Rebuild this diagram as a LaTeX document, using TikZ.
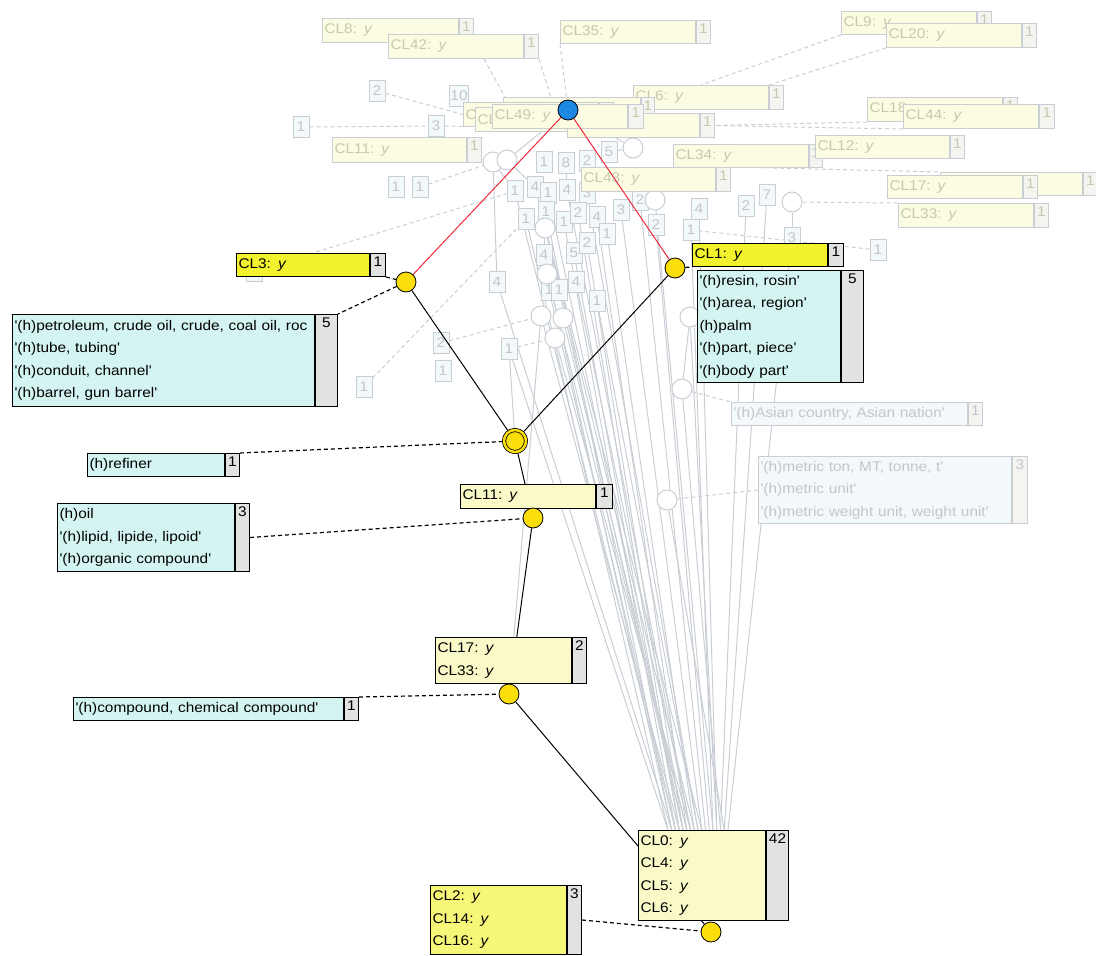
\documentclass[tikz,border=0pt]{standalone}
\usepackage{fontspec}
\setmainfont{Liberation Sans}[FakeStretch=1.1,Ligatures=TeXOff]

\pgfdeclarelayer{fadeedges}
\pgfdeclarelayer{fadenodes}
\pgfdeclarelayer{edges}
\pgfsetlayers{fadeedges,fadenodes,edges,main}

\definecolor{hiyel}{RGB}{242,242,46}
\definecolor{midyel}{RGB}{246,246,120}
\definecolor{loyel}{RGB}{250,250,200}
\definecolor{listcyan}{RGB}{212,244,242}
\definecolor{cellgrey}{RGB}{224,227,223}
\definecolor{dotyel}{RGB}{250,222,10}
\definecolor{dotblue}{RGB}{30,136,229}
\definecolor{redline}{RGB}{240,40,60}
\definecolor{fadegrey}{RGB}{200,206,212}
\definecolor{fadeyel}{RGB}{252,252,226}
\definecolor{fadecyan}{RGB}{243,249,250}
\definecolor{fadecell}{RGB}{244,244,241}
\definecolor{fadetext}{RGB}{200,200,172}
\definecolor{fadeword}{RGB}{192,198,204}

\begin{document}
\begin{tikzpicture}[x=1pt, y=-1pt,
    font=\fontsize{14}{22.5}\selectfont,
    box/.style={draw, rectangle, anchor=north west, inner xsep=2pt, inner ysep=0pt, align=left, line width=1pt},
    cnt/.style={draw, rectangle, anchor=north west, fill=cellgrey, inner sep=0pt, minimum width=#1, text height=13pt, line width=1pt},
    fbox/.style={box, draw=fadegrey, fill=fadeyel, text=fadetext},
    fcnt/.style={cnt=#1, draw=fadegrey, fill=fadecell, text=fadetext},
    flist/.style={box, draw=fadegrey, fill=fadecyan, text=fadeword},
    nbox/.style={draw=fadegrey, fill=fadecyan, text=fadeword, rectangle, minimum width=16pt, minimum height=21pt, inner sep=1pt, line width=1pt},
    fdot/.style={circle, draw=fadegrey, fill=white, minimum size=20pt, inner sep=0pt, line width=1pt},
    dot/.style={circle, draw, fill=dotyel, minimum size=20pt, inner sep=0pt, line width=0.8pt},
    ring/.style={circle, draw, double=dotyel, double distance=2.5pt, fill=dotyel, minimum size=22pt, inner sep=0pt, line width=0.8pt},
    fline/.style={draw=fadegrey, line width=1pt},
    fdash/.style={draw=fadegrey, line width=1pt, dash pattern=on 4pt off 3pt},
    link/.style={line width=1pt},
    hint/.style={line width=1.2pt, dash pattern=on 4pt off 3pt},
    redlink/.style={draw=redline, line width=1pt}]

    \useasboundingbox (0,0) rectangle (1096,956);

    % Faded nodes
    \begin{pgfonlayer}{fadenodes}
    \foreach \n/\x/\y/\t in {1/377/91/2, 2/459/96/10, 3/301/127/1, 4/436/126/3, 5/396/187/1, 6/420/187/1,
        7/544/162/1, 8/566/163/8, 9/587/161/2, 10/609/152/5, 11/515/191/1, 12/535/187/4, 13/548/193/1,
        14/567/190/4, 15/587/193/3, 16/526/219/1, 17/546/212/1, 18/564/222/1, 19/578/213/2, 20/597/217/4,
        21/621/210/3, 22/640/200/2, 23/656/225/2, 24/607/234/1, 25/699/209/4, 26/691/230/1, 27/746/206/2,
        28/767/195/7, 29/792/238/3, 30/878/250/1, 31/544/255/4, 32/574/253/5, 33/587/243/2, 34/497/282/4,
        35/549/290/1, 36/559/290/1, 37/576/282/4, 38/597/301/1, 39/441/343/2, 40/509/349/1, 41/443/371/1,
        42/364/387/1, 44/254/271/}
        \node[nbox] (nb\n) at (\x,\y) {\t};
    \foreach \n/\x/\y in {1/493/162, 2/507/160, 3/792/202, 4/541/316, 5/563/318, 6/555/338, 7/682/389,
        8/667/500, 9/545/228, 10/633/148, 11/655/200, 12/547/274, 13/690/317}
        \node[fdot] (c\n) at (\x,\y) {};

    \node[fbox, text width=132pt, minimum height=24pt] (fl8) at (322,18) {CL8: \textit{y}};
    \node[fcnt=14pt, text depth=11pt] (fl8c) at (fl8.north east) {1};
    \node[fbox, text width=131pt, minimum height=24pt] (fl42) at (388,34) {CL42: \textit{y}};
    \node[fcnt=14pt, text depth=11pt] (fl42c) at (fl42.north east) {1};
    \node[fbox, text width=131pt, minimum height=23pt] (fl35) at (560,20) {CL35: \textit{y}};
    \node[fcnt=14pt, text depth=10pt] (fl35c) at (fl35.north east) {1};
    \node[fbox, text width=131pt, minimum height=23pt] (fl9) at (841,11) {CL9: \textit{y}};
    \node[fcnt=14pt, text depth=10pt] (fl9c) at (fl9.north east) {1};
    \node[fbox, text width=131pt, minimum height=24pt] (fl20) at (886,23) {CL20: \textit{y}};
    \node[fcnt=14pt, text depth=11pt] (fl20c) at (fl20.north east) {1};
    \node[fbox, text width=131pt, minimum height=24pt] (fl6) at (633,85) {CL6: \textit{y}};
    \node[fcnt=14pt, text depth=11pt] (fl6c) at (fl6.north east) {1};
    \node[fbox, text width=133pt, minimum height=24pt] (fC) at (503,97) {CL4};
    \node[fcnt=13pt, text depth=11pt] (fCc) at (fC.north east) {1};
    \node[fbox, text width=131pt, minimum height=24pt] (fA) at (463,102) {CL};
    \node[fcnt=14pt, text depth=11pt] (fAc) at (fA.north east) {1};
    \node[fbox, text width=131pt, minimum height=24pt] (fB) at (475,107) {CL};
    \node[fcnt=14pt, text depth=11pt] (fBc) at (fB.north east) {1};
    \node[fbox, text width=128pt, minimum height=24pt] (fD) at (567,113) {};
    \node[fcnt=14pt, text depth=11pt] (fDc) at (fD.north east) {1};
    \node[fbox, text width=131pt, minimum height=24pt] (fl49) at (492,104) {CL49: \textit{y}};
    \node[fcnt=15pt, text depth=11pt] (fl49c) at (fl49.north east) {1};
    \node[fbox, text width=131pt, minimum height=24pt] (fl18) at (867,97) {CL18: \textit{y}};
    \node[fcnt=14pt, text depth=11pt] (fl18c) at (fl18.north east) {1};
    \node[fbox, text width=131pt, minimum height=24pt] (fl44) at (903,104) {CL44: \textit{y}};
    \node[fcnt=15pt, text depth=11pt] (fl44c) at (fl44.north east) {1};
    \node[fbox, text width=130pt, minimum height=25pt] (fl11) at (332,137) {CL11: \textit{y}};
    \node[fcnt=14pt, text depth=12pt] (fl11c) at (fl11.north east) {1};
    \node[fbox, text width=131pt, minimum height=23pt] (fl34) at (673,144) {CL34: \textit{y}};
    \node[fcnt=13pt, text depth=10pt] (fl34c) at (fl34.north east) {1};
    \node[fbox, text width=130pt, minimum height=23pt] (fl12) at (815,135) {CL12: \textit{y}};
    \node[fcnt=14pt, text depth=10pt] (fl12c) at (fl12.north east) {1};
    \node[fbox, text width=130pt, minimum height=24pt] (fl43) at (581,167) {CL43: \textit{y}};
    \node[fcnt=14pt, text depth=11pt] (fl43c) at (fl43.north east) {1};
    \node[fbox, text width=138pt, minimum height=23pt] (fl17b) at (940,172) {};
    \node[fcnt=14pt, text depth=10pt] (fl17bc) at (fl17b.north east) {1};
    \node[fbox, text width=131pt, minimum height=23pt] (fl17) at (887,175) {CL17: \textit{y}};
    \node[fcnt=14pt, text depth=10pt] (fl17c) at (fl17.north east) {1};
    \node[fbox, text width=131pt, minimum height=24pt] (fl33) at (898,203) {CL33: \textit{y}};
    \node[fcnt=14pt, text depth=11pt] (fl33c) at (fl33.north east) {1};
    \node[flist, text width=232pt, minimum height=23pt] (asia) at (731,402) {'(h)Asian country, Asian nation'};
    \node[fcnt=14pt, text depth=10pt, fill=fadecell, text=fadeword] (asiac) at (asia.north east) {1};
    \node[flist, text width=249pt, minimum height=67pt] (metric) at (758,456) {'(h)metric ton, MT, tonne, t'\\'(h)metric unit'\\'(h)metric weight unit, weight unit'};
    \node[fcnt=15pt, text depth=54pt, text=fadeword] (metricc) at (metric.north east) {3};
    \end{pgfonlayer}

    % Nodes
    \node[dot, fill=dotblue] (top) at (568,110) {};
    \node[box, fill=hiyel, text width=129pt, minimum height=23pt] (cl3) at (236,253) {CL3: \textit{y}};
    \node[cnt=15pt, text depth=10pt] (cl3c) at (cl3.north east) {1};
    \node[dot] (n3) at (406,282) {};
    \node[box, fill=listcyan, text width=298pt, minimum height=92pt] (pet) at (12,314)
        {\mbox{'(h)petroleum, crude oil, crude, coal oil, roc}\\'(h)tube, tubing'\\'(h)conduit, channel'\\'(h)barrel, gun barrel'};
    \node[cnt=22pt, text depth=79pt] (petc) at (pet.north east) {5};
    \node[box, fill=hiyel, text width=131pt, minimum height=23pt] (cl1) at (692,243) {CL1: \textit{y}};
    \node[cnt=15pt, text depth=10pt] (cl1c) at (cl1.north east) {1};
    \node[dot] (n1) at (675,268) {};
    \node[box, fill=listcyan, text width=139pt, minimum height=112pt] (resin) at (697,270)
        {'(h)resin, rosin'\\'(h)area, region'\\(h)palm\\'(h)part, piece'\\'(h)body part'};
    \node[cnt=22pt, text depth=99pt] (resinc) at (resin.north east) {5};
    \node[ring] (refine) at (515,441) {};
    \node[box, fill=listcyan, text width=133pt, minimum height=23pt] (refiner) at (87,453) {(h)refiner};
    \node[cnt=14pt, text depth=10pt] (refinerc) at (refiner.north east) {1};
    \node[box, fill=loyel, text width=131pt, minimum height=24pt] (cl11) at (460,484) {CL11: \textit{y}};
    \node[cnt=16pt, text depth=11pt] (cl11c) at (cl11.north east) {1};
    \node[dot] (n11) at (533,518) {};
    \node[box, fill=listcyan, text width=173pt, minimum height=68pt] (oil) at (57,503)
        {(h)oil\\'(h)lipid, lipide, lipoid'\\'(h)organic compound'};
    \node[cnt=14pt, text depth=55pt] (oilc) at (oil.north east) {3};
    \node[box, fill=loyel, text width=132pt, minimum height=46pt] (cl17) at (435,637) {CL17: \textit{y}\\CL33: \textit{y}};
    \node[cnt=14pt, text depth=33pt] (cl17c) at (cl17.north east) {2};
    \node[dot] (n17) at (509,694) {};
    \node[box, fill=listcyan, text width=266pt, minimum height=23pt] (comp) at (73,697) {'(h)compound, chemical compound'};
    \node[cnt=14pt, text depth=10pt] (compc) at (comp.north east) {1};
    \node[box, fill=loyel, text width=123pt, minimum height=90pt] (cl0) at (638,830)
        {CL0: \textit{y}\\CL4: \textit{y}\\CL5: \textit{y}\\CL6: \textit{y}};
    \node[cnt=22pt, text depth=77pt] (cl0c) at (cl0.north east) {42};
    \node[dot] (n0) at (711,932) {};
    \node[box, fill=midyel, text width=132pt, minimum height=69pt] (cl2) at (430,885)
        {CL2: \textit{y}\\CL14: \textit{y}\\CL16: \textit{y}};
    \node[cnt=14pt, text depth=56pt] (cl2c) at (cl2.north east) {3};

    % Faded lines
    \begin{pgfonlayer}{fadeedges}
    \coordinate (hub1) at (515,115);
    \coordinate (hub2) at (553,104);
    \coordinate (hub3) at (520,127);
    \foreach \k in {0,...,16}
        \coordinate (ft\k) at ({668+3.75*\k},830);
    \foreach \s/\k in {nb16/0, nb17/1, nb18/2, nb19/3, nb20/5, nb24/7, nb31/1, nb32/3, nb33/4, nb35/2,
        nb36/4, nb37/6, nb38/8, c4/3, c5/5, c6/6, c9/7, c12/5, nb11/2, nb13/4, nb14/6, nb15/8, nb21/9,
        nb22/10, nb23/11, nb25/13, nb26/12, nb29/16, c7/14, c8/15, nb40/0, nb34/1, nb12/9, c11/12,
        nb28/15, nb27/14, c13/13}
        \draw[fline] (\s) -- (ft\k);
    \foreach \a/\b in {c1/nb11, c2/nb12, c10/nb10, c11/nb22, c3/nb29, c1/nb34, c13/c7, nb40/refine,
        c4/n17, top/c2, top/c10, nb8/nb14, nb9/nb15, c9/nb31}
        \draw[fline] (\a) -- (\b);
    \draw[fdash] ([xshift=28pt]fl42.south) -- (hub1);
    \draw[fdash] (fl42c.south east) -- (hub2);
    \draw[fdash] (fl35.south west) -- (top);
    \draw[fdash] (nb1) -- (fA.west);
    \draw[fdash] (nb3) -- (nb4) -- (hub3);
    \draw[fdash] (fl9.south west) -- (fl6.north);
    \draw[fdash] (fl20.south west) -- (fl6c.north west);
    \draw[fdash] (fl18.south west) -- (fDc.east);
    \draw[fdash] (fl44.south west) -- (fDc.east);
    \draw[fdash] (nb6) -- (c1);
    \draw[fdash] (nb44) -- (nb11);
    \draw[fdash] (nb42) -- (nb16);
    \draw[fdash] (nb39) -- (c4);
    \draw[fdash] (nb40) -- (c6);
    \draw[fdash] (c3) -- (fl33.north west);
    \draw[fdash] (fl43c.north east) -- (fl17b.north west);
    \draw[fdash] (nb30) -- (nb26);
    \draw[fdash] (c7) -- (asia.north west);
    \draw[fdash] (c8) -- (metric.west);
    \end{pgfonlayer}

    % Links
    \begin{pgfonlayer}{edges}
    \draw[redlink] (top) -- (n3);
    \draw[redlink] (top) -- (n1);
    \draw[link] (n3) -- (refine);
    \draw[link] (n1) -- (refine);
    \draw[link] (refine) -- (n11);
    \draw[link] (n11) -- (n17);
    \draw[link] (n17) -- (n0);
    \draw[hint] (cl3c.south east) -- (n3);
    \draw[hint] (n3) -- (petc.north east);
    \draw[hint] (n1) -- (cl1.south west);
    \draw[hint] (refinerc.north east) -- (refine);
    \draw[hint] (oilc.east) -- (n11);
    \draw[hint] (compc.north east) -- (n17);
    \draw[hint] (cl2c.east) -- (n0);
    \end{pgfonlayer}
\end{tikzpicture}
\end{document}
